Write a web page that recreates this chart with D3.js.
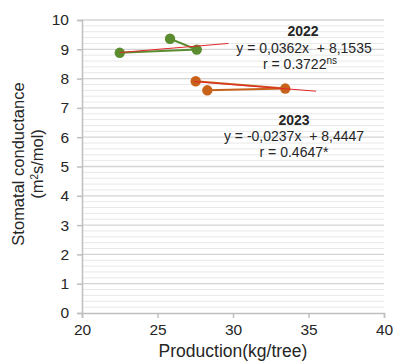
<!DOCTYPE html>
<html><head><meta charset="utf-8">
<script src="https://cdn.jsdelivr.net/npm/d3@7"></script>
<style>body{margin:0;background:#fff}svg{display:block;font-family:"Liberation Sans",Arial,sans-serif}</style>
</head><body><div id="chart"></div>
<script>
const xTicks = [20, 25, 30, 35, 40];
const yTicks = [0,1,2,3,4,5,6,7,8,9,10];
const series2022 = [[25.83, 9.36], [27.6, 8.99], [22.5, 8.88]];
const series2023 = [[27.53, 7.91], [33.46, 7.66], [28.3, 7.6]];
const trend2022 = [[22.5, 8.89], [29.7, 9.2]];
const trend2023 = [[27.4, 7.9], [35.5, 7.57]];
const labels2022 = ["2022", "y = 0,0362x  + 8,1535", "r = 0.3722", "ns"];
const labels2023 = ["2023", "y = -0,0237x  + 8,4447", "r = 0.4647*"];

const W = 394, H = 362;
const m = {l: 82, r: 10, t: 20, b: 49};
const svg = d3.select("#chart").append("svg").attr("width", W).attr("height", H);
const x = d3.scaleLinear().domain([20, 40]).range([m.l, W - m.r]);
const y = d3.scaleLinear().domain([0, 10]).range([H - m.b, m.t]);
const keep = s => s.replace(/  /g, " \u00a0");

// minor grid
const minor = d3.range(0, 10.001, 0.2).filter(v => Math.abs(v - Math.round(v)) > 1e-6);
svg.append("g").selectAll("line").data(minor).join("line")
  .attr("x1", x(20)).attr("x2", x(40)).attr("y1", d => y(d)).attr("y2", d => y(d))
  .attr("stroke", "#e8e8e8").attr("stroke-width", 1);
// major grid
svg.append("g").selectAll("line").data(yTicks.slice(1)).join("line")
  .attr("x1", x(20)).attr("x2", x(40)).attr("y1", d => y(d)).attr("y2", d => y(d))
  .attr("stroke", "#d4d4d4").attr("stroke-width", 1.3);

// axes
const yAxis = svg.append("g").attr("transform", `translate(${x(20)},0)`)
  .call(d3.axisLeft(y).tickValues(yTicks).tickSize(5).tickPadding(8));
const xAxis = svg.append("g").attr("transform", `translate(0,${y(0)})`)
  .call(d3.axisBottom(x).tickValues(xTicks).tickSize(5).tickPadding(6));
[yAxis, xAxis].forEach(g => {
  g.select(".domain").attr("stroke", "#bfbfbf").attr("stroke-width", 1.5);
  g.selectAll(".tick line").attr("stroke", "#bfbfbf").attr("stroke-width", 1.5);
  g.selectAll(".tick text").attr("fill", "#262626").style("font-size", "15.5px")
    .style("font-family", '"Liberation Sans",Arial,sans-serif');
});

const line = d3.line().x(d => x(d[0])).y(d => y(d[1]));
function drawSeries(data, trend, color) {
  svg.append("path").datum(data).attr("d", line).attr("fill", "none")
    .attr("stroke", color).attr("stroke-width", 2);
  svg.append("g").selectAll("circle").data(data).join("circle")
    .attr("cx", d => x(d[0])).attr("cy", d => y(d[1])).attr("r", 5.2).attr("fill", color);
  svg.append("path").datum(trend).attr("d", line).attr("fill", "none")
    .attr("stroke", "#e3262a").attr("stroke-width", 1);
}
drawSeries(series2022, trend2022, "#5b8c2f");
drawSeries(series2023, trend2023, "#c8621a");

// annotations
const ann = svg.append("g").attr("fill", "#262626").style("font-size", "14px")
  .attr("text-anchor", "middle");
ann.append("text").attr("x", 303).attr("y", 36).attr("font-weight", "bold").text(labels2022[0]);
ann.append("text").attr("x", 304).attr("y", 52.5).text(keep(labels2022[1]));
const r22 = ann.append("text").attr("x", 300).attr("y", 68.5);
r22.append("tspan").text(labels2022[2]);
r22.append("tspan").attr("dy", -5).style("font-size", "10px").text(labels2022[3]);
ann.append("text").attr("x", 294).attr("y", 125).attr("font-weight", "bold").text(labels2023[0]);
ann.append("text").attr("x", 294).attr("y", 140.5).text(keep(labels2023[1]));
ann.append("text").attr("x", 294).attr("y", 157).text(labels2023[2]);

// axis titles
svg.append("text").attr("x", x(30)).attr("y", 357).attr("text-anchor", "middle")
  .attr("fill", "#262626").style("font-size", "17.5px").text("Production(kg/tree)");
const yt = svg.append("text").attr("transform", "translate(0,164) rotate(-90)")
  .attr("text-anchor", "middle").attr("fill", "#262626").style("font-size", "16.5px");
yt.append("tspan").attr("x", 0).attr("y", 24).text("Stomatal conductance");
const t2 = yt.append("tspan").attr("x", 0).attr("y", 43);
t2.append("tspan").text("(m");
t2.append("tspan").attr("dy", -5).style("font-size", "10px").text("2");
t2.append("tspan").attr("dy", 5).text("s/mol)");
</script></body></html>
